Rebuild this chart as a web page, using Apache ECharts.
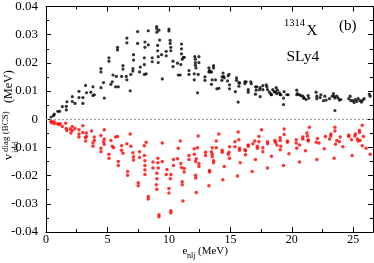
<!DOCTYPE html>
<html>
<head>
<meta charset="utf-8">
<script src="https://cdn.jsdelivr.net/npm/echarts@6/dist/echarts.min.js"></script>
<style>
html,body{margin:0;padding:0;background:#fff;}
#chart{width:374px;height:263px;}
</style>
</head>
<body>
<div id="chart"></div>
<script>
// e_nlj (MeV), v_ind^diag(BCS) (MeV) -- black (positive) points
const blackPoints = [
[0.41,0.0008],[0.62,0.0013],[0.67,0.0018],[0.96,0.0028],[1.10,0.0028],[1.33,0.0045],[1.65,0.0046],[1.65,0.0033],[1.70,0.0062],[2.14,0.0063],[2.14,0.0080],[2.36,0.0056],[2.68,0.0077],[2.68,0.0099],[3.00,0.0077],[3.00,0.0056],[3.22,0.0120],[3.30,0.0094],[3.65,0.0096],[3.82,0.0115],[3.82,0.0084],[3.93,0.0087],[4.47,0.0112],[4.47,0.0168],[4.47,0.0180],[4.68,0.0130],[4.74,0.0075],[5.12,0.0218],[5.12,0.0206],[5.28,0.0124],[5.39,0.0133],[5.45,0.0157],[5.66,0.0115],[5.88,0.0115],[5.72,0.0152],[6.26,0.0190],[6.26,0.0178],[6.15,0.0152],[6.53,0.0152],[6.58,0.0140],[6.58,0.0288],[6.58,0.0271],[5.82,0.0255],[5.82,0.0246],[6.85,0.0101],[6.90,0.0159],[7.07,0.0171],[7.07,0.0180],[7.12,0.0229],[7.12,0.0210],[7.45,0.0311],[7.45,0.0269],[7.61,0.0168],[7.67,0.0185],[8.00,0.0159],[8.15,0.0161],[8.00,0.0194],[8.00,0.0218],[8.05,0.0255],[8.05,0.0274],[8.32,0.0314],[8.32,0.0264],[8.64,0.0218],[8.64,0.0204],[9.00,0.0329],[9.00,0.0322],[9.02,0.0309],[9.18,0.0316],[9.08,0.0262],[9.08,0.0243],[9.24,0.0281],[9.13,0.0222],[9.13,0.0201],[9.40,0.0229],[9.46,0.0143],[9.78,0.0241],[9.78,0.0225],[10.00,0.0320],[10.00,0.0313],[10.10,0.0280],[10.10,0.0269],[10.15,0.0255],[10.15,0.0243],[10.33,0.0206],[10.33,0.0187],[10.70,0.0199],[10.76,0.0157],[10.92,0.0157],[10.97,0.0194],[11.02,0.0267],[11.02,0.0250],[11.02,0.0232],[11.08,0.0213],[11.19,0.0220],[11.24,0.0220],[11.63,0.0173],[11.63,0.0159],[12.10,0.0222],[12.15,0.0213],[12.15,0.0201],[12.15,0.0192],[12.20,0.0182],[12.44,0.0222],[12.44,0.0201],[12.06,0.0161],[12.06,0.0140],[12.38,0.0159],[12.33,0.0094],[12.93,0.0150],[12.93,0.0138],[13.25,0.0182],[13.30,0.0173],[13.25,0.0168],[13.63,0.0190],[13.63,0.0182],[13.36,0.0168],[13.46,0.0168],[13.52,0.0140],[13.46,0.0124],[13.79,0.0140],[13.90,0.0108],[14.06,0.0110],[14.30,0.0138],[14.33,0.0150],[14.40,0.0164],[14.44,0.0152],[14.50,0.0147],[14.82,0.0154],[14.88,0.0159],[14.76,0.0136],[14.93,0.0122],[14.93,0.0108],[15.40,0.0098],[15.50,0.0147],[15.50,0.0138],[15.69,0.0129],[15.75,0.0129],[15.69,0.0117],[15.63,0.0061],[16.18,0.0133],[16.18,0.0126],[16.28,0.0133],[16.45,0.0105],[16.45,0.0096],[16.66,0.0133],[16.70,0.0126],[17.04,0.0115],[17.15,0.0115],[17.10,0.0103],[17.04,0.0089],[17.42,0.0080],[17.37,0.0105],[17.42,0.0112],[17.64,0.0119],[17.64,0.0105],[17.92,0.0122],[17.97,0.0115],[18.02,0.0105],[18.18,0.0096],[18.30,0.0089],[18.34,0.0087],[18.45,0.0105],[18.56,0.0098],[18.67,0.0096],[18.78,0.0091],[18.72,0.0112],[18.83,0.0103],[18.99,0.0094],[19.05,0.0087],[19.10,0.0087],[19.32,0.0075],[19.32,0.0052],[19.37,0.0098],[19.59,0.0087],[19.70,0.0087],[20.40,0.0103],[20.45,0.0091],[20.40,0.0087],[20.62,0.0087],[20.73,0.0084],[20.90,0.0082],[20.95,0.0075],[21.00,0.0075],[21.16,0.0070],[21.32,0.0084],[21.38,0.0075],[21.97,0.0096],[22.03,0.0082],[22.03,0.0073],[22.36,0.0087],[22.30,0.0077],[22.57,0.0066],[22.68,0.0082],[22.79,0.0068],[23.06,0.0073],[23.28,0.0082],[23.38,0.0091],[23.44,0.0082],[23.50,0.0075],[23.50,0.0031],[23.66,0.0082],[23.76,0.0075],[23.87,0.0068],[23.98,0.0070],[24.63,0.0073],[24.74,0.0082],[24.80,0.0066],[24.96,0.0066],[25.07,0.0059],[25.17,0.0070],[25.28,0.0063],[25.39,0.0073],[25.55,0.0066],[25.66,0.0061],[25.77,0.0068],[25.88,0.0073],[26.30,0.0089],[26.37,0.0082]
];
// red (negative) points
const redPoints = [
[0.41,-0.0007],[0.45,-0.0012],[0.67,-0.0009],[0.67,-0.0016],[0.94,-0.0016],[1.05,-0.0019],[1.16,-0.0016],[1.33,-0.0026],[1.60,-0.0014],[1.65,-0.0033],[1.70,-0.0040],[1.98,-0.0035],[2.03,-0.0049],[2.14,-0.0026],[2.14,-0.0040],[2.36,-0.0033],[2.68,-0.0037],[2.68,-0.0052],[2.68,-0.0063],[3.00,-0.0023],[3.00,-0.0047],[3.28,-0.0049],[3.28,-0.0061],[3.22,-0.0065],[3.22,-0.0077],[3.71,-0.0042],[3.82,-0.0084],[3.82,-0.0096],[3.93,-0.0063],[3.93,-0.0075],[4.47,-0.0058],[4.47,-0.0103],[4.47,-0.0115],[4.74,-0.0037],[4.74,-0.0070],[4.68,-0.0080],[4.74,-0.0089],[5.12,-0.0124],[5.12,-0.0138],[5.28,-0.0075],[5.39,-0.0096],[5.50,-0.0101],[5.66,-0.0063],[5.82,-0.0061],[5.88,-0.0150],[5.88,-0.0164],[6.15,-0.0094],[6.15,-0.0110],[6.26,-0.0121],[6.58,-0.0087],[6.64,-0.0185],[6.64,-0.0199],[6.85,-0.0052],[6.90,-0.0096],[7.07,-0.0119],[7.12,-0.0133],[7.12,-0.0145],[7.50,-0.0225],[7.50,-0.0236],[7.61,-0.0115],[7.61,-0.0136],[8.00,-0.0094],[8.00,-0.0129],[8.05,-0.0147],[8.05,-0.0164],[8.05,-0.0180],[8.05,-0.0196],[8.15,-0.0082],[8.32,-0.0274],[8.32,-0.0283],[8.70,-0.0152],[8.70,-0.0173],
[9.10,-0.0138],[9.10,-0.0154],[9.13,-0.0173],[9.46,-0.0084],[9.46,-0.0150],[9.02,-0.0192],[9.02,-0.0211],[8.97,-0.0232],[9.02,-0.0248],[9.19,-0.0339],[9.19,-0.0346],[9.84,-0.0178],[9.78,-0.0196],[10.16,-0.0196],[10.11,-0.0211],[10.00,-0.0246],[10.00,-0.0262],[10.16,-0.0325],[10.16,-0.0332],[10.37,-0.0143],[10.37,-0.0164],[10.70,-0.0140],[10.76,-0.0103],[10.92,-0.0077],[10.97,-0.0157],[11.02,-0.0171],[11.08,-0.0222],[11.08,-0.0232],[11.24,-0.0175],[11.24,-0.0187],[11.14,-0.0290],[11.63,-0.0129],[11.63,-0.0143],[12.06,-0.0105],[12.06,-0.0124],[12.22,-0.0140],[12.17,-0.0150],[12.33,-0.0101],[12.44,-0.0157],[12.44,-0.0168],[12.17,-0.0199],[12.17,-0.0208],[12.22,-0.0260],[12.38,-0.0059],[12.98,-0.0117],[12.98,-0.0129],[13.30,-0.0182],[13.30,-0.0187],[13.25,-0.0236],[13.52,-0.0101],[13.46,-0.0115],[13.52,-0.0124],[13.52,-0.0133],[13.63,-0.0147],[13.63,-0.0154],[13.85,-0.0077],[13.85,-0.0101],[14.06,-0.0052],[14.33,-0.0110],[14.33,-0.0117],[14.50,-0.0168],[14.39,-0.0215],[14.88,-0.0117],[14.82,-0.0124],[14.93,-0.0098],[14.93,-0.0138],[15.37,-0.0080],[15.37,-0.0098],[15.63,-0.0045],[15.69,-0.0073],[15.74,-0.0103],[15.74,-0.0110],[15.80,-0.0154],[15.58,-0.0201],[16.18,-0.0108],[16.23,-0.0112],[16.23,-0.0126],[16.45,-0.0091],[16.45,-0.0096],[16.83,-0.0087],[16.77,-0.0185],[16.99,-0.0077],[17.04,-0.0143],[17.20,-0.0096],[17.20,-0.0103],[17.32,-0.0061],[17.32,-0.0080],[17.53,-0.0037],
[17.64,-0.0101],[17.64,-0.0115],[18.02,-0.0080],[18.02,-0.0087],[18.02,-0.0173],[18.34,-0.0131],[18.62,-0.0075],[18.67,-0.0082],[18.78,-0.0091],[19.05,-0.0066],[19.05,-0.0075],[19.10,-0.0096],[19.05,-0.0108],[19.32,-0.0164],[19.37,-0.0035],[19.37,-0.0054],[19.64,-0.0077],[19.64,-0.0082],[19.76,-0.0122],[20.35,-0.0073],[20.35,-0.0084],[20.40,-0.0103],[20.62,-0.0091],[20.62,-0.0152],[20.89,-0.0063],[20.89,-0.0070],[21.10,-0.0112],[21.22,-0.0049],[21.27,-0.0059],[21.33,-0.0073],[21.33,-0.0077],[21.43,-0.0028],[21.98,-0.0082],[22.08,-0.0068],[22.20,-0.0084],[22.03,-0.0143],[22.63,-0.0105],[22.73,-0.0061],[23.06,-0.0070],[23.17,-0.0052],[23.17,-0.0059],[23.50,-0.0028],[23.50,-0.0042],[23.44,-0.0138],[23.55,-0.0089],[23.66,-0.0075],[23.87,-0.0080],[23.93,-0.0063],[24.15,-0.0098],[24.63,-0.0056],[24.63,-0.0061],[24.90,-0.0129],[24.85,-0.0073],[25.17,-0.0052],[25.12,-0.0059],[25.33,-0.0070],[25.50,-0.0040],[25.50,-0.0047],[25.55,-0.0075],[25.72,-0.0021],[25.82,-0.0061],[25.39,-0.0077],[25.72,-0.0094],[26.04,-0.0103],[26.37,-0.0124]
];
const xRange = [0, 26.6];
const xStep = 5;
const yRange = [-0.04, 0.04];
const yStep = 0.01;

const FONT = '"Liberation Serif", "Times New Roman", serif';
const chart = echarts.init(document.getElementById('chart'), null, {renderer: 'canvas'});

const axisLineStyle = {color: '#000', width: 1};
function frameAxis(pos, isX) {
  return {
    type: 'value', position: pos,
    min: isX ? xRange[0] : yRange[0], max: isX ? xRange[1] : yRange[1],
    interval: isX ? xStep : yStep,
    axisLine: {show: true, onZero: false, lineStyle: axisLineStyle},
    axisTick: {show: true, inside: true, length: 5, lineStyle: axisLineStyle},
    minorTick: {show: true, splitNumber: 2, length: 3, lineStyle: axisLineStyle},
    axisLabel: {show: false},
    splitLine: {show: false}
  };
}

const option = {
  animation: false,
  backgroundColor: '#fff',
  grid: {left: 46, right: 1, top: 4, bottom: 31, containLabel: false},
  xAxis: [
    {
      type: 'value', position: 'bottom',
      min: xRange[0], max: xRange[1], interval: xStep,
      axisLine: {show: true, onZero: false, lineStyle: axisLineStyle},
      axisTick: {show: true, inside: true, length: 5, lineStyle: axisLineStyle},
      minorTick: {show: true, splitNumber: 2, length: 3, lineStyle: axisLineStyle},
      axisLabel: {show: true, margin: 2, fontFamily: FONT, fontSize: 12, color: '#000',
        showMaxLabel: false},
      splitLine: {show: false}
    },
    frameAxis('top', true)
  ],
  yAxis: [
    {
      type: 'value', position: 'left',
      min: yRange[0], max: yRange[1], interval: yStep,
      axisLine: {show: true, onZero: false, lineStyle: axisLineStyle},
      axisTick: {show: true, inside: true, length: 5, lineStyle: axisLineStyle},
      minorTick: {show: true, splitNumber: 2, length: 3, lineStyle: axisLineStyle},
      axisLabel: {show: true, margin: 8, fontFamily: FONT, fontSize: 13, color: '#000',
        formatter: v => (Math.abs(v) < 1e-9 ? '0' : (+v.toFixed(2)).toString())},
      splitLine: {show: false}
    },
    frameAxis('right', false)
  ],
  series: [
    {
      type: 'scatter', xAxisIndex: 0, yAxisIndex: 0,
      data: redPoints, symbol: 'circle', symbolSize: 3.5,
      itemStyle: {color: '#ff0000'},
      markLine: {
        silent: true, symbol: 'none', label: {show: false},
        lineStyle: {color: '#999', type: [2, 2], width: 1},
        data: [{yAxis: 0}]
      }
    },
    {
      type: 'scatter', xAxisIndex: 0, yAxisIndex: 0,
      data: blackPoints, symbol: 'circle', symbolSize: 3.2,
      itemStyle: {color: '#000'}
    }
  ],
  graphic: [
    // y-axis title (rotated)
    {
      type: 'group', x: 8.5, y: 160, rotation: Math.PI / 2,
      children: [
        {type: 'text', style: {text: 'v', x: 0, y: 0, font: '12px ' + FONT, fill: '#000', align: 'left', verticalAlign: 'middle'}},
        {type: 'text', style: {text: 'diag (BCS)', x: 8, y: -2.5, font: '9px ' + FONT, fill: '#000', align: 'left', verticalAlign: 'middle'}},
        {type: 'text', style: {text: 'ind', x: 7, y: 7.5, font: '9px ' + FONT, fill: '#000', align: 'left', verticalAlign: 'middle'}},
        {type: 'text', style: {text: '(MeV)', x: 57, y: 0, font: '12px ' + FONT, fill: '#000', align: 'left', verticalAlign: 'middle'}}
      ]
    },
    // x-axis title
    {type: 'text', x: 182.5, y: 251, style: {text: 'e', font: '11px ' + FONT, fill: '#000', align: 'left', verticalAlign: 'middle'}},
    {type: 'text', x: 187, y: 255.5, style: {text: 'nlj', font: '8px ' + FONT, fill: '#000', align: 'left', verticalAlign: 'middle'}},
    {type: 'text', x: 198, y: 251.5, style: {text: '(MeV)', font: '11px ' + FONT, fill: '#000', align: 'left', verticalAlign: 'middle'}},
    // annotations
    {type: 'text', x: 284, y: 23.5, style: {text: '1314', font: '10.5px ' + FONT, fill: '#000', align: 'left', verticalAlign: 'middle'}},
    {type: 'text', x: 306.5, y: 31, style: {text: 'X', font: '15px ' + FONT, fill: '#000', align: 'left', verticalAlign: 'middle'}},
    {type: 'text', x: 339, y: 26, style: {text: '(b)', font: '15px ' + FONT, fill: '#000', align: 'left', verticalAlign: 'middle'}},
    {type: 'text', x: 286.5, y: 56.5, style: {text: 'SLy4', font: '15.5px ' + FONT, fill: '#000', align: 'left', verticalAlign: 'middle'}}
  ]
};
chart.setOption(option);
</script>
</body>
</html>
